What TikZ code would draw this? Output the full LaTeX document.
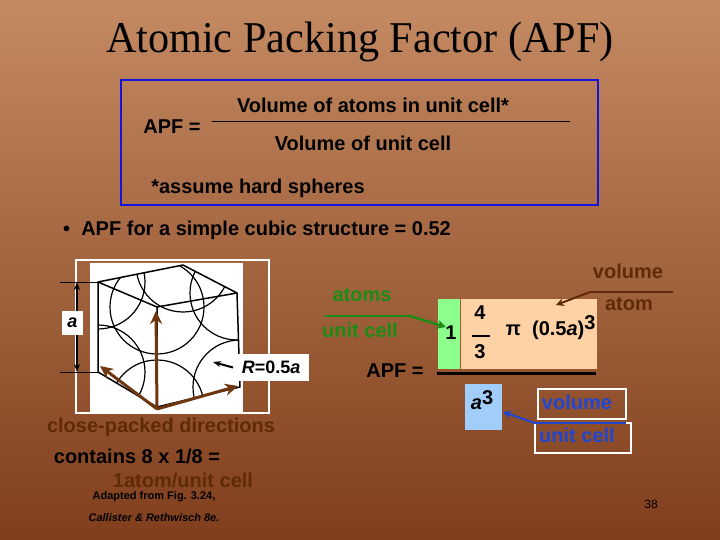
\documentclass[tikz,border=0pt]{standalone}
\usepackage{fontspec}
\usetikzlibrary{arrows.meta}
\setmainfont{Liberation Sans}
\newfontfamily\serif{Liberation Serif}
\begin{document}
\begin{tikzpicture}[x=1pt,y=-1pt,
  txt/.style={font=\fontsize{20}{22}\selectfont\bfseries, text=black, inner sep=0pt},
  small/.style={font=\fontsize{11}{12}\selectfont\bfseries, text=black, inner sep=0pt},
  wbox/.style={fill=white, inner sep=2pt},
  brn/.style={draw=arrbrown, line width=3pt, -{Stealth[length=13pt,width=12pt]}},
  ]
\definecolor{bgtop}{RGB}{196,138,98}
\definecolor{bgbot}{RGB}{128,62,28}
\definecolor{mybrown}{RGB}{95,42,8}
\definecolor{arrbrown}{RGB}{110,55,15}
\definecolor{mygreen}{RGB}{30,140,20}
\definecolor{myblue}{RGB}{30,70,210}
\definecolor{boxblue}{RGB}{20,20,220}
\definecolor{lightblue}{RGB}{160,205,250}
\useasboundingbox (0,0) rectangle (720,540);
\shade[top color=bgtop, bottom color=bgbot] (0,0) rectangle (720,540);
\node[font=\serif\fontsize{44}{46}\selectfont, inner sep=0pt, xscale=0.96] (title) at (360,42) {Atomic Packing Factor (APF)};
\node[draw=boxblue, line width=2pt, minimum width=477pt, minimum height=125pt, inner sep=0pt] (frame) at (359.5,142.5) {};
\node[txt] (apf1) at (172,127) {APF =};
\node[txt] (num) at (373,105) {Volume of atoms in unit cell*};
\coordinate (l1) at (212,122); \coordinate (l2) at (570,122);
\draw[black, line width=1pt] (l1) -- (l2);
\node[txt] (den) at (363,143) {Volume of unit cell};
\node[txt] (hard) at (258,188) {*assume hard spheres};
\node[txt, anchor=west] (bul) at (63,230) {\textbullet\ \ APF for a simple cubic structure = 0.52};
% cube image
\node[draw=white, line width=1.5pt, minimum width=193pt, minimum height=153pt, inner sep=0pt] (img) at (172.5,336.5) {};
\fill[white] (90,263) rectangle (243,413);
\coordinate (A) at (98,282); \coordinate (B) at (183,265); \coordinate (C) at (237,293);
\coordinate (D) at (157,307); \coordinate (E) at (98,372); \coordinate (F) at (157,407);
\coordinate (G) at (240,387); \coordinate (H) at (183,355);
\begin{scope}
\clip (A)--(B)--(C)--(G)--(F)--(E)--cycle;
\foreach \p in {A,B,C,D,E,F,G}{\draw[line width=1.2pt] (\p) circle (47);}
\end{scope}
\draw[line width=1.5pt, line join=round] (A)--(B)--(C)--(G)--(F)--(E)--cycle (A)--(D)--(C) (D)--(F);
% a dimension
\coordinate (a1) at (60,282); \coordinate (a2) at (60,372);
\draw[line width=1pt] (a1) -- (A) (a2) -- (E);
\coordinate (a3) at (77,282); \coordinate (a4) at (77,372);
\draw[line width=1.5pt, {Stealth[length=8pt]}-{Stealth[length=8pt]}] (a3) -- (a4);
\node[wbox, font=\fontsize{18}{19}\selectfont\bfseries\itshape, minimum width=21pt, minimum height=24pt] (alab) at (72.5,323) {a};
\node[wbox, font=\fontsize{18}{19}\selectfont\bfseries, minimum width=76pt, minimum height=27pt, anchor=west] (rlab) at (233,367.5) {\textit{R}=0.5\textit{a}};
\coordinate (rt) at (213,362);
\draw[line width=2pt, -{Stealth[length=8pt]}] (rlab.west) -- (rt);
\coordinate (o) at (157,409);
\coordinate (t1) at (100,366); \coordinate (t2) at (156,311); \coordinate (t3) at (238,386);
\draw[brn] (o) -- (t1); \draw[brn] (o) -- (t2); \draw[brn] (o) -- (t3);
\node[txt, text=mybrown] (cpd) at (161,427) {close-packed directions};
\node[txt] (cont) at (137,456) {contains 8 x 1/8 =};
\node[txt, text=mybrown] (one) at (183,480) {1atom/unit cell};
\node[small] (adapt) at (154,497) {Adapted from Fig. 3.24,};
\node[small, font=\fontsize{11}{12}\selectfont\bfseries\itshape] (call) at (154,518) {Callister \& Rethwisch 8e.};
\node[small, font=\fontsize{12}{14}\selectfont] (pg) at (651,504) {38};
% formula
\node[txt, text=mygreen] (atoms) at (362,295) {atoms};
\coordinate (g1) at (325,316); \coordinate (g2) at (410,316);
\draw[mygreen, line width=2pt] (g1) -- (g2);
\node[txt, text=mygreen] (uc) at (360,330) {unit cell};
\fill[green!45!white] (438,299) rectangle (460,369);
\fill[orange!35!white] (461,299) rectangle (597,369);
\coordinate (gt) at (446,327);
\draw[mygreen, line width=2.5pt, -{Stealth[length=9pt,width=9pt]}] (g2) -- (gt);
\node[txt] (apf2) at (395,371) {APF =};
\coordinate (f1) at (437,373); \coordinate (f2) at (596,373);
\draw[black, line width=3pt] (f1) -- (f2);
\node[txt] (n1) at (451,333) {1};
\node[txt] (n4) at (480,313) {4};
\coordinate (q1) at (472,336); \coordinate (q2) at (490,336);
\draw[black, line width=2pt] (q1) -- (q2);
\node[txt] (n3) at (480,352) {3};
\node[txt] (pi) at (545,330) {π \ (0.5\textit{a})};
\node[txt] (e3) at (590,323) {3};
\node[txt, text=mybrown] (vol) at (628,271) {volume};
\coordinate (b1) at (590,292); \coordinate (b2) at (673,292);
\draw[mybrown, line width=1.5pt] (b1) -- (b2);
\node[txt, text=mybrown] (atom) at (629,304) {atom};
\coordinate (bt) at (556,305);
\draw[mybrown, line width=2pt, -{Stealth[length=8pt,width=8pt]}] (b1) -- (bt);
\fill[lightblue] (465,384) rectangle (502,430);
\node[txt] (a3l) at (482,400) {\textit{a}\raisebox{5pt}{3}};
\node[draw=white, line width=1.2pt, minimum width=88pt, minimum height=30pt] (vb) at (582,404) {};
\node[txt, text=myblue] (vt) at (577,402) {volume};
\node[draw=white, line width=1.2pt, minimum width=96pt, minimum height=30pt] (ub) at (583,438) {};
\node[txt, text=myblue] (ut) at (577,435) {unit cell};
\coordinate (u1) at (535,423); \coordinate (u2) at (626,423); \coordinate (ut2) at (503,412);
\draw[myblue, line width=1.5pt] (u1) -- (u2);
\draw[myblue, line width=2pt, -{Stealth[length=8pt,width=8pt]}] (u1) -- (ut2);
\end{tikzpicture}
\end{document}
